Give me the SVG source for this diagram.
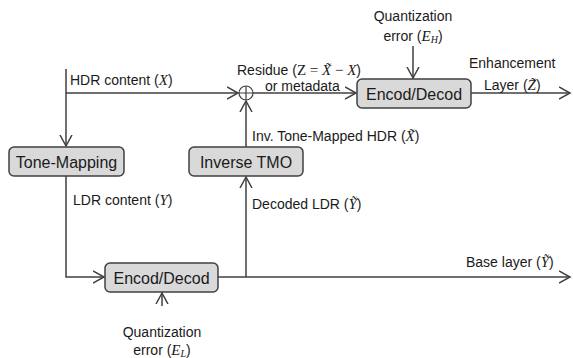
<svg xmlns="http://www.w3.org/2000/svg" width="573" height="358" viewBox="0 0 573 358">
<style>
.box{fill:#d9d9d9;stroke:#404040;stroke-width:1.5}
.bt{font-family:"Liberation Sans",Arial,sans-serif;font-size:16px;fill:#1a1a1a;text-anchor:middle;dominant-baseline:central}
.lb{font-family:"Liberation Sans",Arial,sans-serif;font-size:14px;fill:#1a1a1a}
.m{font-family:"Liberation Serif","Times New Roman",serif;font-style:italic;font-size:15px}
.r{font-family:"Liberation Serif","Times New Roman",serif;font-size:15px}
.ln{fill:none;stroke:#404040;stroke-width:1.5}
</style>
<defs>
<marker id="a" markerUnits="userSpaceOnUse" markerWidth="14" markerHeight="14" refX="11" refY="6" orient="auto" viewBox="0 0 14 12">
<path d="M0,0 L11,6 L0,12" fill="none" stroke="#404040" stroke-width="1.5"/>
</marker>
</defs>
<g id="connectors">
<path class="ln" d="M66,69 V146" marker-end="url(#a)"/>
<path class="ln" d="M66,93 H238" marker-end="url(#a)"/>
<path class="ln" d="M246,147 V101" marker-end="url(#a)"/>
<path class="ln" d="M253,93 H356" marker-end="url(#a)"/>
<path class="ln" d="M413,46 V78" marker-end="url(#a)"/>
<path class="ln" d="M471,93 H570" marker-end="url(#a)"/>
<path class="ln" d="M66,176 V277 H104" marker-end="url(#a)"/>
<path class="ln" d="M162,306 V293" marker-end="url(#a)"/>
<path class="ln" d="M218,277 H570" marker-end="url(#a)"/>
<path class="ln" d="M246,277 V177" marker-end="url(#a)"/>
</g>
<g id="sum">
<circle cx="246" cy="93" r="7" fill="none" stroke="#404040" stroke-width="1.2"/>
<path d="M239,93 H253 M246,86 V100" stroke="#404040" stroke-width="1.2"/>
</g>
<g id="tonemapping">
<rect class="box" x="9" y="147" width="115" height="29" rx="5"/>
<text class="bt" x="66.5" y="162">Tone-Mapping</text>
</g>
<g id="inversetmo">
<rect class="box" x="189" y="147" width="114" height="29" rx="5"/>
<text class="bt" x="246" y="162">Inverse TMO</text>
</g>
<g id="encodH">
<rect class="box" x="357" y="79" width="114" height="29" rx="5"/>
<text class="bt" x="414" y="94">Encod/Decod</text>
</g>
<g id="encodL">
<rect class="box" x="105" y="263" width="113" height="29" rx="5"/>
<text class="bt" x="161.5" y="278">Encod/Decod</text>
</g>
<g id="labels">
<text class="lb" x="70" y="85">HDR content (<tspan class="m">X</tspan>)</text>
<text class="lb" x="237" y="75">Residue (<tspan class="r">Z = </tspan><tspan class="m">X̃</tspan><tspan class="r"> − </tspan><tspan class="m">X</tspan>)</text>
<text class="lb" x="265" y="91">or metadata</text>
<text class="lb" x="413" y="21" text-anchor="middle">Quantization</text>
<text class="lb" x="413" y="41" text-anchor="middle">error (<tspan class="m">E<tspan font-size="10" dy="2">H</tspan></tspan><tspan dy="-2">)</tspan></text>
<text class="lb" x="469" y="68">Enhancement</text>
<text class="lb" x="484" y="90">Layer (<tspan class="m">Z̃</tspan>)</text>
<text class="lb" x="252" y="141">Inv. Tone-Mapped HDR (<tspan class="m">X̃</tspan>)</text>
<text class="lb" x="73" y="205">LDR content (<tspan class="m">Y</tspan>)</text>
<text class="lb" x="252" y="209">Decoded LDR (<tspan class="m">Ỹ</tspan>)</text>
<text class="lb" x="466" y="267">Base layer (<tspan class="m">Ỹ</tspan>)</text>
<text class="lb" x="162" y="337" text-anchor="middle">Quantization</text>
<text class="lb" x="162" y="355" text-anchor="middle">error (<tspan class="m">E<tspan font-size="10" dy="2">L</tspan></tspan><tspan dy="-2">)</tspan></text>
</g>
</svg>
